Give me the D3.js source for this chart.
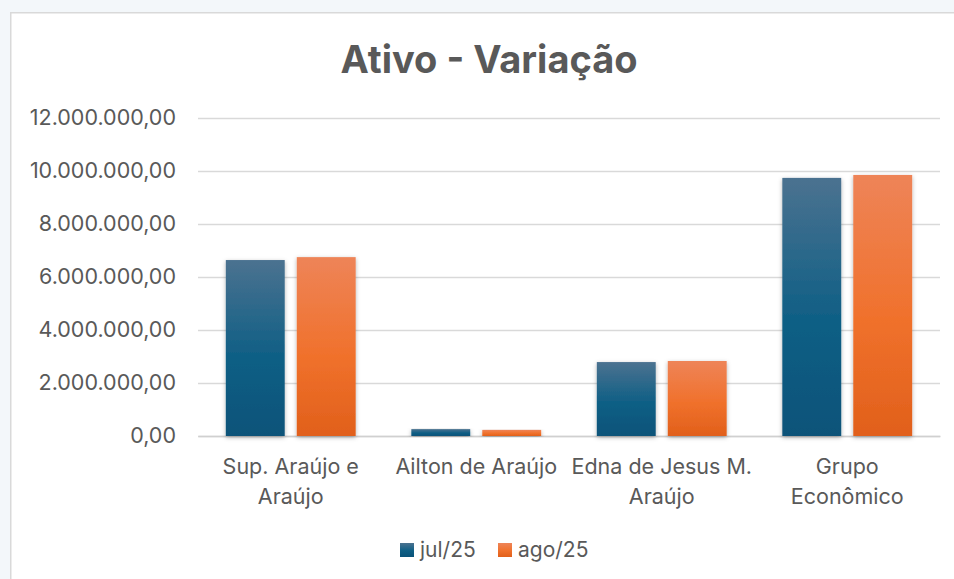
<!DOCTYPE html>
<html>
<head>
<meta charset="utf-8">
<script src="https://cdn.jsdelivr.net/npm/d3@7"></script>
<style>
  html, body { margin: 0; padding: 0; background: #f3f7fa; }
  svg { display: block; }
</style>
</head>
<body>
<svg></svg>
<script>
const width = 954
const height = 579

// Data
const categories = [["Sup. Araújo e", "Araújo"], ["Ailton de Araújo"], ["Edna de Jesus M.", "Araújo"], ["Grupo", "Econômico"]]
const seriesNames = ["jul/25", "ago/25"]
const jul25 = [6640000, 260000, 2790000, 9740000]
const ago25 = [6750000, 230000, 2830000, 9850000]
const yTicks = [0, 2000000, 4000000, 6000000, 8000000, 10000000, 12000000]

const fontFamily = "Inter, 'Open Sans', sans-serif"
const textColor = "#595959"

const svg = d3.select("svg")
    .attr("width", width)
    .attr("height", height)

// chart area (runs off the right and bottom edges)
svg.append("rect")
    .attr("x", 10).attr("y", 12)
    .attr("width", width - 10).attr("height", height - 12)
    .attr("fill", "#fff")
svg.append("path")
    .attr("d", `M10.75,${height}V12.75H${width}`)
    .attr("fill", "none")
    .attr("stroke", "#d9d9d9")
    .attr("stroke-width", 1.5)

const defs = svg.append("defs")

const gradients = [
    { id: "gBlue", stops: ["#4b7290", "#0f5f85", "#0a5379"] },
    { id: "gOrange", stops: ["#ee8458", "#f0712c", "#e1601b"] }
]
gradients.forEach(g => {
    const lg = defs.append("linearGradient").attr("id", g.id)
        .attr("x1", 0).attr("y1", 0).attr("x2", 0).attr("y2", 1)
    lg.append("stop").attr("offset", "0%").attr("stop-color", g.stops[0])
    lg.append("stop").attr("offset", "55%").attr("stop-color", g.stops[1])
    lg.append("stop").attr("offset", "100%").attr("stop-color", g.stops[2])
})

defs.append("filter").attr("id", "shadow")
    .attr("x", "-20%").attr("y", "-5%").attr("width", "140%").attr("height", "115%")
    .append("feDropShadow")
    .attr("dx", 0).attr("dy", 1.5).attr("stdDeviation", 2)
    .attr("flood-color", "#000").attr("flood-opacity", 0.3)

const margin = { top: 118, right: 14, bottom: 143, left: 198 }
const innerWidth = width - margin.left - margin.right
const innerHeight = height - margin.top - margin.bottom

const ptBR = d3.formatLocale({ decimal: ",", thousands: ".", grouping: [3], currency: ["R$", ""] })
const fmt = ptBR.format(",.2f")

const xScale = d3.scaleBand()
    .domain(d3.range(categories.length))
    .range([0, innerWidth])

const xInner = d3.scaleBand()
    .domain(seriesNames)
    .range([xScale.bandwidth() * 0.15, xScale.bandwidth() * 0.85])
    .paddingInner(0.17)

const yScale = d3.scaleLinear()
    .domain([0, 12000000])
    .range([innerHeight, 0])

const g = svg.append("g")
    .attr("transform", `translate(${margin.left}, ${margin.top})`)

// gridlines + y labels
const yAxis = d3.axisLeft(yScale).tickValues(yTicks).tickFormat(fmt)
    .tickSize(-innerWidth).tickPadding(22)
const yAxisG = g.append("g").call(yAxis)
    .attr("font-family", fontFamily)
    .attr("font-size", "21.5px")
yAxisG.select(".domain").remove()
yAxisG.selectAll(".tick line")
    .attr("stroke", "#d9d9d9").attr("stroke-width", 1.5)
yAxisG.selectAll(".tick text")
    .attr("fill", textColor)

// x axis labels
const xAxis = d3.axisBottom(xScale).tickSize(0).tickFormat("")
const xAxisG = g.append("g").call(xAxis)
    .attr("transform", `translate(0, ${innerHeight})`)
    .attr("font-family", fontFamily)
    .attr("font-size", "21.5px")
xAxisG.select(".domain")
    .attr("stroke", "#d0d0d0").attr("stroke-width", 1.5)
xAxisG.selectAll(".tick text").remove()
xAxisG.selectAll(".tick").append("text")
    .attr("fill", textColor)
    .attr("text-anchor", "middle")
    .selectAll("tspan")
    .data(i => categories[i])
    .join("tspan")
    .attr("x", 0)
    .attr("y", (d, i) => 38 + i * 30)
    .text(d => d)

// bars
const rows = categories.map((c, i) => ({ i, values: [jul25[i], ago25[i]] }))
const groups = g.selectAll(".grp").data(rows).join("g")
    .attr("class", "grp")
    .attr("transform", d => `translate(${xScale(d.i)}, 0)`)
groups.selectAll("rect")
    .data(d => d.values.map((v, k) => ({ key: seriesNames[k], v, k })))
    .join("rect")
    .attr("x", d => xInner(d.key))
    .attr("width", xInner.bandwidth())
    .attr("y", d => yScale(d.v))
    .attr("height", d => innerHeight - yScale(d.v))
    .attr("fill", d => d.k === 0 ? "url(#gBlue)" : "url(#gOrange)")
    .attr("filter", "url(#shadow)")

// title
svg.append("text")
    .attr("x", 489).attr("y", 73)
    .attr("text-anchor", "middle")
    .attr("font-family", fontFamily)
    .attr("font-weight", "bold")
    .attr("font-size", "38px")
    .attr("fill", textColor)
    .text("Ativo - Variação")

// legend
const legendX = [400, 498]
const legend = svg.append("g")
legend.selectAll("g").data(seriesNames).join("g")
    .attr("transform", (d, i) => `translate(${legendX[i]}, 543)`)
    .each(function (d, i) {
        const lg = d3.select(this)
        lg.append("rect").attr("width", 14).attr("height", 14)
            .attr("fill", i === 0 ? "url(#gBlue)" : "url(#gOrange)")
        lg.append("text").attr("x", 20).attr("y", 14)
            .attr("font-family", fontFamily)
            .attr("font-size", "21px")
            .attr("fill", textColor)
            .text(d)
    })
</script>
</body>
</html>
